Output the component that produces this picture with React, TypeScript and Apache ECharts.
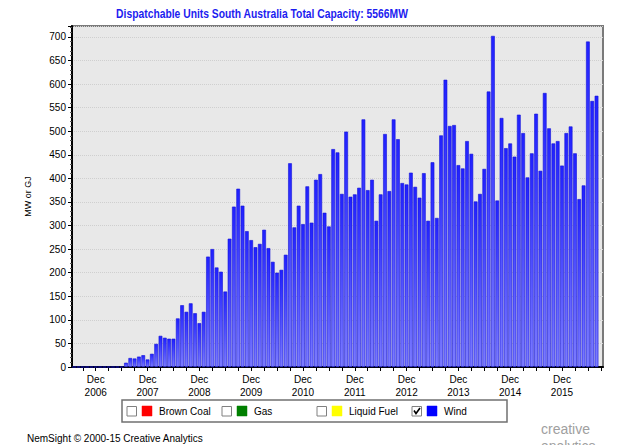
import React, { useEffect, useRef } from "react";
import * as echarts from "echarts";

// Monthly categories: Jul 2006 .. Sep 2016
const startYear = 2006;
const startMonth = 7;
const monthCount = 123;
const months: string[] = [];
for (let i = 0; i < monthCount; i++) {
  const m0 = startMonth - 1 + i;
  const y = startYear + Math.floor(m0 / 12);
  const m = (m0 % 12) + 1;
  months.push(`${y}-${m < 10 ? "0" + m : m}`);
}

// Wind capacity (MW), Jul 2006 .. Sep 2016
const wind: (number | null)[] = [
  // 2006 Jul-Dec
  0, 0, 0, 0, 0, 0,
  // 2007
  0, 0, 0, 0, 0, 0, 9, 19, 18, 22, 25, 16,
  // 2008
  28, 49, 66, 62, 60, 60, 103, 131, 117, 135, 114, 93,
  // 2009
  117, 234, 250, 211, 202, 160, 272, 340, 378, 342, 288, 269,
  // 2010
  254, 261, 291, 252, 223, 200, 206, 238, 432, 296, 342, 303,
  // 2011
  383, 306, 397, 409, 327, 298, 462, 455, 367, 499, 361, 366,
  // 2012
  380, 525, 375, 397, 310, 366, 494, 373, 525, 483, 390, 387,
  // 2013
  412, 382, 359, 411, 310, 434, 316, 491, 609, 511, 513, 428,
  // 2014
  421, 479, 452, 351, 367, 420, 584, 702, 353, 528, 464, 474,
  // 2015
  446, 535, 496, 402, 453, 537, 416, 581, 506, 474, 479, 427,
  // 2016
  496, 510, 453, 356, 385, 690, 564, 575, null,
];

const legendItems = ["Brown Coal", "Gas", "Liquid Fuel", "Wind"];
const legendColors = ["#ff0000", "#008000", "#ffff00", "#0000ff"];
const legendChecked = [false, false, false, true];
const legendX = [127, 222, 317, 412];

const titleText = "Dispatchable Units South Australia Total Capacity: 5566MW";
const yAxisName = "MW or GJ";
const footerText = "NemSight \u00a9 2000-15 Creative Analytics";
const logoText = "creative\nanalytics";

const FONT = "'Liberation Sans', Arial, sans-serif";

export default function App() {
  const ref = useRef<HTMLDivElement>(null);

  useEffect(() => {
    if (!ref.current) return;
    const chart = echarts.init(ref.current, null, { renderer: "svg" });

    const legendGraphics: any[] = [
      {
        type: "rect",
        shape: { x: 122, y: 400, width: 385, height: 22 },
        style: { fill: "#ffffff", stroke: "#707070", lineWidth: 1.5 },
      },
    ];
    legendItems.forEach((name, i) => {
      const x = legendX[i];
      legendGraphics.push({
        type: "rect",
        shape: { x: x, y: 406.5, width: 9.5, height: 9.5 },
        style: { fill: "#ffffff", stroke: "#808080", lineWidth: 1 },
      });
      if (legendChecked[i]) {
        legendGraphics.push({
          type: "polyline",
          shape: { points: [[x + 2, 410.5], [x + 4, 413.5], [x + 8, 408]] },
          style: { stroke: "#000000", lineWidth: 1.6, fill: null },
        });
      }
      legendGraphics.push({
        type: "rect",
        shape: { x: x + 15, y: 406, width: 10, height: 10 },
        style: { fill: legendColors[i], stroke: legendColors[i], lineWidth: 0.5 },
      });
      legendGraphics.push({
        type: "text",
        x: x + 32,
        y: 411,
        style: {
          text: name,
          fill: "#000000",
          font: `10px ${FONT}`,
          textVerticalAlign: "middle",
          verticalAlign: "middle",
        },
      });
    });

    chart.setOption({
      animation: false,
      backgroundColor: "#ffffff",
      grid: {
        left: 72,
        right: 14,
        top: 26,
        bottom: 78,
        show: true,
        backgroundColor: "#e8e8e8",
        borderColor: "#7a7a7a",
        borderWidth: 2,
      },
      xAxis: {
        type: "category",
        data: months,
        boundaryGap: true,
        axisLine: { show: true, lineStyle: { color: "#000000", width: 2 } },
        axisTick: {
          show: true,
          alignWithLabel: true,
          interval: (idx: number) => idx % 3 === 2,
          length: 4,
          lineStyle: { color: "#000000" },
        },
        axisLabel: {
          interval: (_idx: number, val: string) => val.endsWith("-12"),
          formatter: (val: string) => `Dec\n${val.slice(0, 4)}`,
          fontSize: 10,
          lineHeight: 13,
          color: "#000000",
          fontFamily: FONT,
          margin: 6,
        },
        splitLine: { show: false },
      },
      yAxis: {
        type: "value",
        min: 0,
        max: 723,
        interval: 50,
        name: yAxisName,
        nameLocation: "middle",
        nameGap: 40,
        nameTextStyle: { fontSize: 9, color: "#000000", fontFamily: FONT },
        axisLine: { show: true, lineStyle: { color: "#000000", width: 2 } },
        axisTick: { show: true, length: 4, lineStyle: { color: "#000000" } },
        minorTick: { show: true, splitNumber: 5, length: 2, lineStyle: { color: "#555555" } },
        axisLabel: {
          fontSize: 10,
          color: "#000000",
          fontFamily: FONT,
          margin: 6,
          showMaxLabel: false,
        },
        splitLine: { show: true, lineStyle: { color: "#cfcfcf", type: "dotted", width: 1 } },
      },
      series: [
        {
          name: "Wind",
          type: "bar",
          data: wind,
          barCategoryGap: "14%",
          itemStyle: {
            color: new echarts.graphic.LinearGradient(0, 0, 0, 1, [
              { offset: 0, color: "#2020ff" },
              { offset: 1, color: "#7c7cff" },
            ]),
            borderColor: "#1212d8",
            borderWidth: 0.6,
          },
        },
      ],
      graphic: [
        {
          type: "text",
          x: 262,
          y: 14,
          scaleX: 0.86,
          style: {
            text: titleText,
            fill: "#1c1cf0",
            font: `bold 12px ${FONT}`,
            textAlign: "center",
            textVerticalAlign: "middle",
            verticalAlign: "middle",
          },
        },
        ...legendGraphics,
        {
          type: "text",
          x: 27,
          y: 438,
          style: {
            text: footerText,
            fill: "#000000",
            font: `10px ${FONT}`,
            textVerticalAlign: "middle",
            verticalAlign: "middle",
          },
        },
        {
          type: "text",
          x: 541,
          y: 420,
          style: {
            text: logoText,
            fill: "#a0a0a0",
            font: `14px ${FONT}`,
            lineHeight: 17,
          },
        },
      ],
    });

    return () => chart.dispose();
  }, []);

  return (
    <div
      ref={ref}
      style={{ position: "fixed", left: 0, top: 0, width: 617, height: 445, background: "#ffffff" }}
    />
  );
}
